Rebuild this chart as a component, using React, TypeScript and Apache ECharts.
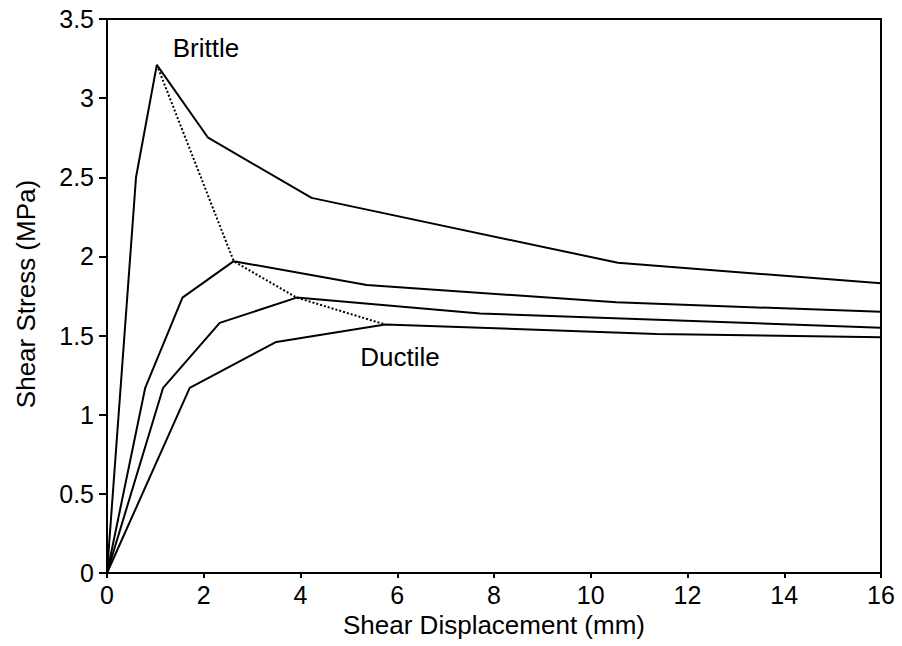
import React, { useEffect, useRef } from "react";
import * as echarts from "echarts";

const brittleX = [0, 0.6, 1.03, 2.09, 4.23, 10.56, 16];
const brittleY = [0, 2.5, 3.21, 2.75, 2.37, 1.96, 1.83];
const curve2X = [0, 0.79, 1.56, 2.62, 5.37, 10.53, 16];
const curve2Y = [0, 1.17, 1.74, 1.97, 1.82, 1.71, 1.65];
const curve3X = [0, 1.16, 2.33, 3.92, 7.71, 16];
const curve3Y = [0, 1.17, 1.58, 1.74, 1.64, 1.55];
const ductileX = [0, 1.71, 3.5, 5.75, 11.36, 16];
const ductileY = [0, 1.17, 1.46, 1.57, 1.51, 1.49];
const peakX = [1.03, 2.62, 3.92, 5.75];
const peakY = [3.21, 1.97, 1.74, 1.57];

const zip = (xs: number[], ys: number[]) => xs.map((x, i) => [x, ys[i]]);

const FONT = "Liberation Sans, Arial, Helvetica, sans-serif";

export default function App() {
  const ref = useRef<HTMLDivElement>(null);
  useEffect(() => {
    if (!ref.current) return;
    const chart = echarts.init(ref.current, undefined, { renderer: "svg" });
    const solid = (name: string, data: number[][]) => ({
      name,
      type: "line",
      data,
      symbol: "none",
      lineStyle: { color: "#000", width: 2 },
      silent: true,
    });
    chart.setOption({
      animation: false,
      backgroundColor: "#fff",
      grid: {
        left: 107,
        right: 21,
        top: 19,
        bottom: 73,
        show: true,
        borderColor: "#000",
        borderWidth: 2,
      },
      xAxis: {
        type: "value",
        min: 0,
        max: 16,
        interval: 2,
        name: "Shear Displacement (mm)",
        nameLocation: "middle",
        nameGap: 39,
        nameTextStyle: { color: "#000", fontSize: 26, fontFamily: FONT },
        axisLine: { show: true, lineStyle: { color: "#000", width: 2 } },
        axisTick: { show: true, length: 5, lineStyle: { color: "#000", width: 2 } },
        axisLabel: { color: "#000", fontSize: 25, fontFamily: FONT, margin: 9 },
        splitLine: { show: false },
      },
      yAxis: {
        type: "value",
        min: 0,
        max: 3.5,
        interval: 0.5,
        axisLine: { show: true, lineStyle: { color: "#000", width: 2 } },
        axisTick: { show: true, length: 8, lineStyle: { color: "#000", width: 2 } },
        axisLabel: { color: "#000", fontSize: 25, fontFamily: FONT, margin: 13 },
        splitLine: { show: false },
      },
      graphic: [
        {
          type: "text",
          x: 26,
          y: 294,
          rotation: Math.PI / 2,
          style: {
            text: "Shear Stress (MPa)",
            fill: "#000",
            font: `26px ${FONT}`,
            textAlign: "center",
            textVerticalAlign: "middle",
          },
        },
        {
          type: "text",
          x: 206,
          y: 48,
          style: {
            text: "Brittle",
            fill: "#000",
            font: `26px ${FONT}`,
            textAlign: "center",
            textVerticalAlign: "middle",
          },
        },
        {
          type: "text",
          x: 400,
          y: 357,
          style: {
            text: "Ductile",
            fill: "#000",
            font: `26px ${FONT}`,
            textAlign: "center",
            textVerticalAlign: "middle",
          },
        },
      ],
      series: [
        solid("brittle", zip(brittleX, brittleY)),
        solid("curve2", zip(curve2X, curve2Y)),
        solid("curve3", zip(curve3X, curve3Y)),
        solid("ductile", zip(ductileX, ductileY)),
        {
          name: "peak",
          type: "line",
          data: zip(peakX, peakY),
          symbol: "none",
          silent: true,
          lineStyle: { color: "#000", width: 2, type: [2, 2] },
        },
      ],
    });
    return () => chart.dispose();
  }, []);
  return (
    <div
      ref={ref}
      style={{ position: "fixed", left: 0, top: 0, width: 902, height: 646, background: "#fff" }}
    />
  );
}
